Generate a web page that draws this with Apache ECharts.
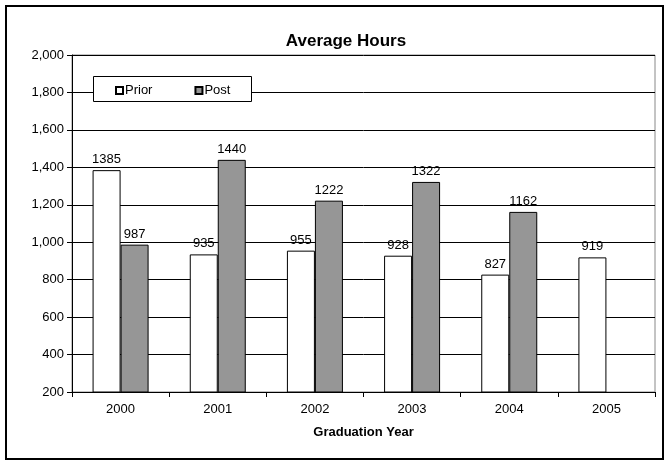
<!DOCTYPE html>
<html>
<head>
<meta charset="utf-8">
<script src="https://cdn.jsdelivr.net/npm/echarts@6/dist/echarts.min.js"></script>
<style>
  html, body { margin: 0; padding: 0; background: #fff; }
  #main { width: 670px; height: 461px; }
</style>
</head>
<body>
<div id="main"></div>
<script>
// graduation years and average hours
const years = ['2000', '2001', '2002', '2003', '2004', '2005']
const priorHours = [1385, 935, 955, 928, 827, 919]
const postHours = [987, 1440, 1222, 1322, 1162, null]

const font = 'Arial, "Liberation Sans", sans-serif'

const chart = echarts.init(document.getElementById('main'))

const labelStyle = {
  show: true,
  position: 'top',
  distance: 4,
  color: '#000',
  fontSize: 13,
  fontFamily: font,
}

chart.setOption({
  animation: false,
  backgroundColor: '#fff',
  title: {
    text: 'Average Hours',
    left: 346,
    textAlign: 'center',
    top: 33,
    padding: 0,
    textStyle: { fontSize: 17, fontWeight: 'bold', color: '#000', fontFamily: font },
  },
  graphic: [
    // outer frame
    {
      type: 'rect',
      shape: { x: 6, y: 6, width: 657, height: 453 },
      style: { fill: 'none', stroke: '#000', lineWidth: 2 },
      z: 0,
    },
    // legend box
    {
      type: 'rect',
      shape: { x: 93.5, y: 76.5, width: 158, height: 25 },
      style: { fill: '#fff', stroke: '#000', lineWidth: 1 },
      z: 50,
    },
  ],
  legend: {
    left: 115,
    top: 84,
    padding: 0,
    z: 60,
    itemWidth: 7,
    itemHeight: 7,
    itemGap: 42,
    icon: 'rect',
    textStyle: { fontSize: 13, color: '#000', fontFamily: font, padding: [0, 0, 0, -3] },
    data: ['Prior', 'Post'],
  },
  grid: { left: 72, right: 15, top: 55, bottom: 69, show: true, borderColor: '#888', borderWidth: 1 },
  xAxis: {
    type: 'category',
    data: years,
    name: 'Graduation Year',
    nameLocation: 'middle',
    nameGap: 34,
    nameTextStyle: { fontSize: 13, fontWeight: 'bold', color: '#000', fontFamily: font },
    axisLine: { lineStyle: { color: '#000', width: 1 } },
    axisTick: { show: true, length: 5, lineStyle: { color: '#000' } },
    axisLabel: { fontSize: 13, color: '#000', fontFamily: font, margin: 11 },
  },
  yAxis: {
    type: 'value',
    min: 200,
    max: 2000,
    interval: 200,
    axisLine: { show: true, lineStyle: { color: '#000', width: 1 } },
    axisTick: { show: true, inside: false, length: 5, lineStyle: { color: '#000' } },
    axisLabel: {
      fontSize: 13,
      color: '#000',
      fontFamily: font,
      margin: 8,
      formatter: (v) => v.toLocaleString('en-US'),
    },
    splitLine: { show: true, lineStyle: { color: '#000', width: 1 } },
  },
  series: [
    {
      name: 'Prior',
      type: 'bar',
      data: priorHours,
      barWidth: 28,
      barGap: '0%',
      itemStyle: { color: '#fff', borderColor: '#000', borderWidth: 1 },
      label: labelStyle,
    },
    {
      name: 'Post',
      type: 'bar',
      data: postHours,
      barWidth: 28,
      itemStyle: { color: '#969696', borderColor: '#000', borderWidth: 1 },
      label: labelStyle,
    },
  ],
})
</script>
</body>
</html>
